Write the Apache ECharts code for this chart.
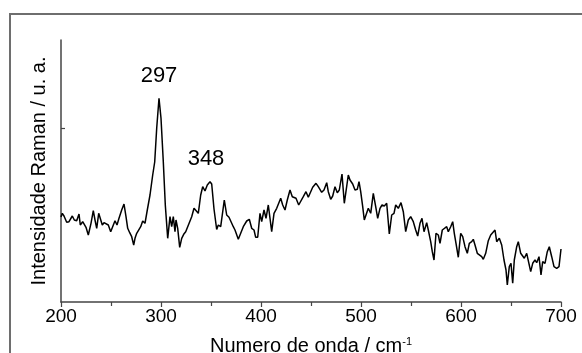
<!DOCTYPE html>
<html>
<head>
<meta charset="utf-8">
<script src="https://cdn.jsdelivr.net/npm/echarts@6/dist/echarts.min.js"></script>
<style>
    html, body { margin: 0; padding: 0; background: #fff; }
    #chart { width: 582px; height: 353px; }
</style>
</head>
<body>
<div id="chart"></div>
<script>
// Raman spectrum (x: cm-1, y: arbitrary units)
var wavenumber = [
    200, 201.3, 203, 205.7, 208, 211.3, 213.3, 215.7, 218, 219.3, 221.7, 223.3, 225, 227.3, 230, 232.3,
    234, 235.7, 237.7, 239.7, 241.3, 243, 244.7, 247.3, 249.7, 251.3, 254, 256, 258, 260.7, 263, 265,
    266.7, 268.7, 270.7, 272.7, 274, 275.7, 277.3, 279.7, 281.7, 284, 286.3, 289, 291.7, 293.7, 295.7,
    298, 300, 302.3, 304.3, 306.7, 309, 310.7, 312.3, 314, 315, 316.7, 318.7, 320.7, 322.7, 324.7,
    326.7, 328.3, 330.7, 333, 335, 337.3, 339.7, 341.7, 344, 346.3, 349, 350.7, 353, 355.7, 357.3,
    359.7, 363.3, 365.7, 368, 370, 372.3, 374, 377.3, 379.7, 382.3, 385.7, 388.3, 390.7, 393, 394.7,
    396.7, 399, 400.7, 403, 405, 407.3, 410.7, 413, 415.7, 417.3, 419.7, 421.7, 424, 426.3, 429,
    431.3, 433.3, 435, 437.7, 439, 442.3, 445, 447.3, 449, 451.7, 455, 457.3, 460.7, 463, 465.7,
    467.3, 469.7, 471.7, 474, 476.3, 478.3, 481, 483.3, 487.3, 489, 491.7, 494, 496.3, 498, 499.7,
    501.7, 503.3, 505, 507.3, 509.7, 512.3, 514.7, 516.7, 519, 521, 523.3, 525.7, 528.3, 530.7, 533,
    534.7, 537.3, 540, 542.3, 544.7, 547.3, 549.7, 552.3, 554.7, 556.7, 559, 561, 563, 565.7, 567.3,
    569.7, 571.3, 573, 575, 577.3, 579, 581.3, 583.3, 585.7, 587.3, 589.7, 591.7, 593.3, 595, 597.3,
    599.7, 601.7, 604, 606.3, 608.3, 610.7, 612.3, 614, 616.3, 618.3, 620.7, 622.3, 624.7, 627.3,
    629.7, 631.7, 634, 635.7, 638.3, 640.7, 643, 645, 646.3, 648.3, 650, 651.7, 653.3, 655.7, 657.3,
    659.7, 661.7, 663.3, 665.7, 667.3, 669.7, 671.7, 674, 675.7, 678, 680, 681.7, 684, 686.3, 688.3,
    690.7, 693, 695.7, 698, 700
];
var intensity = [
    85, 88.7, 86, 79.7, 80.3, 86, 82, 81.3, 88, 77, 80.3, 81.3, 74.7, 67, 78.7, 91.3,
    82, 73.7, 88.7, 87, 77, 79.3, 78, 77, 70.3, 70.3, 81.3, 77, 83.7, 92, 98, 85.3,
    73.7, 69.3, 65.3, 57, 63.7, 68.7, 67, 75.3, 81, 78.7, 92, 107, 127, 140, 173.7,
    203.7, 183.7, 140.3, 97, 63.7, 85.3, 75.3, 85.3, 70.3, 82, 73.7, 54.7, 63.7, 67.7, 70.3,
    75.3, 73.7, 85.3, 93.7, 93, 88.7, 107, 115.3, 111, 117, 120.3, 118, 93, 72.5, 77,
    75.3, 102, 87, 84.7, 83.7, 75.3, 72, 62.7, 68.7, 75.3, 81, 82.7, 73.7, 72, 64.7,
    64.7, 88.7, 80.3, 92, 83.7, 97, 70.3, 88.7, 93.7, 92.7, 103.7, 97, 92, 102, 112,
    105.3, 107, 103.7, 97, 98.7, 105.3, 110.3, 104.7, 103.7, 114.7, 118.7, 115.3, 109.7, 112, 119.3,
    110.3, 102.7, 106, 115.3, 109.3, 112, 128, 98.7, 127, 122, 118, 112, 112.7, 120.3, 110.3,
    95.3, 82, 83.7, 93.7, 88.7, 108.7, 95.3, 83.7, 93.7, 97, 96, 98.7, 68, 87, 88.7,
    97, 93.7, 99.3, 90.3, 70.3, 82, 85.3, 80.3, 72, 66, 78.7, 83.7, 70.3, 79.3, 72,
    60.3, 50.3, 42, 68.7, 67, 58.7, 72, 72, 75.3, 70.3, 75.3, 80.3, 68.7, 58.7, 44.7,
    68.7, 65.3, 55.3, 48.7, 58.7, 60.3, 62.7, 57, 48.7, 50.3, 45.3, 42.7, 48.7, 61.3,
    67, 65.3, 72, 60.3, 63.7, 57, 42, 32, 17, 35.3, 38.7, 18.7, 42, 55.3, 60.3,
    48.7, 47, 43.7, 48.7, 50.3, 30.3, 38.7, 42, 39.3, 45.3, 27, 40.3, 38.7, 50.3, 55.3,
    45.3, 35.3, 33.7, 35.3, 53
];
var xTicks = [200, 300, 400, 500, 600, 700];
// peak labels: [text, x, y] at label centre in data units
var peakLabels = [
    ['297', 298, 226],
    ['348', 345, 143]
];

var chart = echarts.init(document.getElementById('chart'));
var spectrum = wavenumber.map(function (x, i) { return [x, intensity[i]]; });
var font = 'Liberation Sans, Arial, sans-serif';

var option = {
    animation: false,
    graphic: [{
        type: 'rect',
        shape: { x: 10, y: 14, width: 620, height: 420 },
        style: { fill: 'none', stroke: '#6e6e6e', lineWidth: 2 },
        silent: true
    }],
    grid: {
        left: 61,
        right: 21,
        top: 40,
        bottom: 51,
        outerBoundsMode: 'none'
    },
    xAxis: {
        type: 'value',
        min: xTicks[0],
        max: xTicks[xTicks.length - 1],
        interval: 100,
        name: 'Numero de onda / cm{sup|-1}',
        nameLocation: 'middle',
        nameGap: 34,
        nameTextStyle: {
            color: '#000',
            fontFamily: font,
            fontSize: 20,
            rich: {
                sup: { fontSize: 11, verticalAlign: 'top', color: '#000', fontFamily: font }
            }
        },
        axisLine: { lineStyle: { color: '#444', width: 1.5 } },
        axisTick: { length: 5, lineStyle: { color: '#444', width: 1.2 } },
        minorTick: { show: true, splitNumber: 2, length: 4, lineStyle: { color: '#444', width: 1.2 } },
        splitLine: { show: false },
        axisLabel: {
            color: '#000',
            fontFamily: font,
            fontSize: 19,
            margin: 5
        }
    },
    yAxis: {
        type: 'value',
        min: 0,
        max: 262,
        interval: 174,
        name: 'Intensidade Raman / u. a.',
        nameLocation: 'middle',
        nameRotate: 90,
        nameGap: 12,
        nameTextStyle: {
            color: '#000',
            fontFamily: font,
            fontSize: 20
        },
        axisLine: { show: true, lineStyle: { color: '#444', width: 1.5 } },
        axisTick: { show: true, inside: true, length: 4, customValues: [174], lineStyle: { color: '#444', width: 1.2 } },
        axisLabel: { show: false },
        splitLine: { show: false }
    },
    series: [{
        type: 'line',
        data: spectrum,
        symbol: 'none',
        lineStyle: { color: '#000', width: 1.5 },
        markPoint: {
            symbol: 'circle',
            symbolSize: 0,
            silent: true,
            label: {
                show: true,
                position: 'inside',
                color: '#000',
                fontFamily: font,
                fontSize: 22,
                formatter: function (p) { return p.name; }
            },
            data: peakLabels.map(function (d) {
                return { name: d[0], coord: [d[1], d[2]] };
            })
        }
    }]
};
chart.setOption(option);
</script>
</body>
</html>
